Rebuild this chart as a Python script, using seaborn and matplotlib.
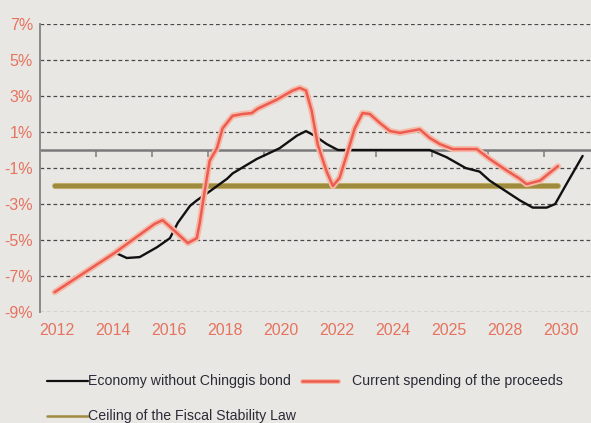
import matplotlib
matplotlib.use("Agg")
import matplotlib.pyplot as plt
import matplotlib.patheffects as pe
from matplotlib.lines import Line2D, TICKDOWN
import seaborn as sns
import pandas as pd

# Category labels along the horizontal axis (positions 0..9)
years = ["2012", "2014", "2016", "2018", "2020", "2022", "2024", "2025", "2028", "2030"]

# Current spending of the proceeds (position on the year scale, % of GDP)
spend_x = [-0.04, 1.04, 1.75, 1.89, 2.07, 2.34, 2.5, 2.55, 2.64, 2.73, 2.86, 2.96, 3.14,
           3.32, 3.48, 3.59, 3.93, 4.21, 4.34, 4.45, 4.55, 4.66, 4.82, 4.93, 5.05,
           5.2, 5.32, 5.46, 5.59, 5.77, 5.95, 6.13, 6.48, 6.66, 6.84, 7.07, 7.5,
           7.73, 8.04, 8.27, 8.39, 8.63, 8.95]
spend_y = [-7.9, -5.7, -4.1, -3.9, -4.4, -5.17, -4.9, -4.1, -2.3, -0.6, 0.1, 1.2, 1.9,
           2.0, 2.05, 2.3, 2.8, 3.3, 3.45, 3.3, 2.2, 0.3, -1.2, -2.0, -1.55,
           -0.05, 1.2, 2.05, 2.0, 1.5, 1.05, 0.95, 1.15, 0.67, 0.33, 0.05, 0.05,
           -0.5, -1.15, -1.6, -1.9, -1.7, -0.9]

# Economy without Chinggis bond
econ_x = [1.04, 1.25, 1.48, 1.79, 2.02, 2.16, 2.38, 2.5, 2.73, 3.04, 3.14, 3.57,
          3.98, 4.29, 4.45, 4.6, 4.82, 5.02, 6.66, 6.96, 7.3, 7.55, 7.73, 8.27,
          8.5, 8.75, 8.9, 9.1, 9.39]
econ_y = [-5.7, -6.0, -5.95, -5.4, -4.9, -4.05, -3.1, -2.8, -2.3, -1.6, -1.3, -0.5,
          0.1, 0.8, 1.05, 0.8, 0.33, 0.0, 0.0, -0.4, -1.0, -1.2, -1.7, -2.8,
          -3.2, -3.2, -3.0, -1.9, -0.33]

# Ceiling of the Fiscal Stability Law
ceiling_x = [-0.04, 8.95]
ceiling_y = [-2.0, -2.0]

y_ticks = [-9, -7, -5, -3, -1, 1, 3, 5, 7]
y_labels = [f"{v}%" for v in y_ticks]

BG = "#e8e7e3"
RED = "#ee5b50"
OLIVE = "#9e8b3e"
LABEL = "#e6735f"

sns.set_theme(style="white")
plt.rcParams["font.family"] = ["Liberation Sans", "DejaVu Sans"]

fig = plt.figure(figsize=(5.91, 4.23), dpi=100, facecolor=BG)
ax = fig.add_axes([40 / 591, (423 - 312) / 423, (591 - 40) / 591, (312 - 24) / 423])
ax.set_facecolor(BG)

# dashed gridlines at odd percentages, solid zero line
for v in y_ticks:
    ax.axhline(v, color="#4a4a4a", lw=0.9, ls=(0, (3, 2.2)), zorder=1)
ax.axhline(0, color="#7a7a7a", lw=1.8, zorder=2)
ax.plot([0.7 + k for k in range(9)], [0] * 9, linestyle="none", marker=TICKDOWN,
        ms=5, mew=1.1, color="#7a7a7a", zorder=2)

df_ceiling = pd.DataFrame({"x": ceiling_x, "y": ceiling_y})
df_econ = pd.DataFrame({"x": econ_x, "y": econ_y})
df_spend = pd.DataFrame({"x": spend_x, "y": spend_y})

sns.lineplot(data=df_ceiling, x="x", y="y", ax=ax, color=OLIVE, lw=3.2,
             estimator=None, sort=False, zorder=3)
sns.lineplot(data=df_econ, x="x", y="y", ax=ax, color="#111111", lw=1.7,
             estimator=None, sort=False, zorder=4)
sns.lineplot(data=df_spend, x="x", y="y", ax=ax, color=RED, lw=1.8,
             estimator=None, sort=False, zorder=5)
ax.lines[-1].set_path_effects([pe.Stroke(linewidth=4.4, foreground="#f5b9a8"), pe.Normal()])
ax.lines[-3].set_path_effects([pe.Stroke(linewidth=4.4, foreground="#c9b774"), pe.Normal()])
for ln in ax.lines:
    ln.set_solid_joinstyle("round")
    ln.set_solid_capstyle("round")

ax.set_xlim(-0.30, 9.54)
ax.set_ylim(-9, 7)
ax.set_xticks(range(len(years)))
ax.set_xticklabels(years)
ax.set_yticks(y_ticks)
ax.set_yticklabels(y_labels)
ax.tick_params(axis="both", length=0, labelsize=11.5, labelcolor=LABEL)
ax.tick_params(axis="x", pad=8)
ax.tick_params(axis="y", pad=5)
ax.set_xlabel("")
ax.set_ylabel("")
for s in ["top", "right", "bottom"]:
    ax.spines[s].set_visible(False)
ax.spines["left"].set_color("#8a8a8a")
ax.spines["left"].set_linewidth(1.4)

# legend drawn below the plot area
def fx(px):
    return px / 591

def fy(py):
    return 1 - py / 423

TXT = "#2b2b38"
FS = 10.2
fig.add_artist(Line2D([fx(47), fx(88)], [fy(381), fy(381)], color="#111111", lw=1.6))
fig.text(fx(88), fy(381), "Economy without Chinggis bond", color=TXT, fontsize=FS,
         va="center", ha="left")
l = Line2D([fx(302), fx(338)], [fy(381), fy(381)], color=RED, lw=1.8)
l.set_path_effects([pe.Stroke(linewidth=3.6, foreground="#f5b9a8"), pe.Normal()])
fig.add_artist(l)
fig.text(fx(352), fy(381), "Current spending of the proceeds", color=TXT, fontsize=FS,
         va="center", ha="left")
fig.add_artist(Line2D([fx(47), fx(88)], [fy(416), fy(416)], color=OLIVE, lw=1.8))
fig.text(fx(88), fy(416), "Ceiling of the Fiscal Stability Law", color=TXT, fontsize=FS,
         va="center", ha="left")

fig.savefig("out.png", dpi=100, facecolor=BG)
